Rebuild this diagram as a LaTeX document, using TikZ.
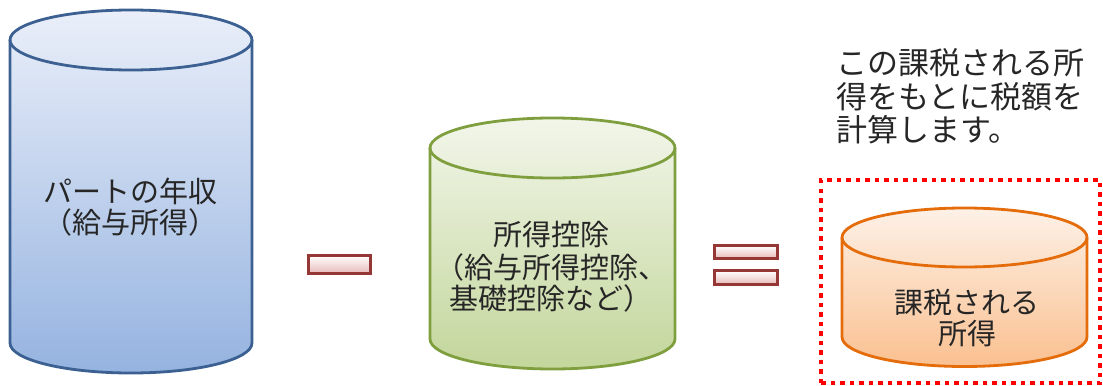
\documentclass[tikz,border=0pt]{standalone}
\usepackage{fontspec}
\newfontfamily\jp{Noto Sans CJK JP}
\definecolor{bluebd}{HTML}{3B6091}
\definecolor{bluetop}{HTML}{EAEFF9}
\definecolor{bluebot}{HTML}{95B3E0}
\definecolor{greenbd}{HTML}{7F9F3F}
\definecolor{greentop}{HTML}{F2F6EA}
\definecolor{greenbot}{HTML}{C3D69B}
\definecolor{orangebd}{HTML}{E46C0A}
\definecolor{orangetop}{HTML}{FDF1E7}
\definecolor{orangebot}{HTML}{FAC090}
\definecolor{barbd}{HTML}{953735}
\definecolor{barbot}{HTML}{E6B9B8}
\tikzset{
  cyltext/.style={font=\jp\fontsize{29bp}{31bp}\selectfont, align=center, text=black!85},
  opbar/.style={draw=barbd, line width=2.8bp, top color=white, bottom color=barbot, rectangle, inner sep=0pt},
  cylline/.style={line width=2.8bp},
}
\newcommand{\mycyl}[7]{% cx, rx, topcy, botcy, ry, top color, bottom color
  \shade[top color=#6, bottom color=#7] (#1-#2,#3) -- (#1-#2,#4)
    arc[start angle=180,end angle=360,x radius=#2 bp,y radius=#5 bp] -- (#1+#2,#3)
    arc[start angle=0,end angle=180,x radius=#2 bp,y radius=#5 bp] -- cycle;
}
\begin{document}
\begin{tikzpicture}[x=1bp,y=1bp]
\useasboundingbox (0,0) rectangle (1103,385);
% blue cylinder
\mycyl{131}{121}{345}{42}{30}{bluetop}{bluebot}
\draw[bluebd, cylline] (10,345) -- (10,42) arc[start angle=180,end angle=360,x radius=121bp,y radius=30bp] -- (252,345);
\draw[bluebd, cylline] (131,345) ellipse[x radius=121bp,y radius=30bp];
\node[cyltext] (income) at (130.5,177.5) {パートの年収\\（給与所得）};
% minus
\node[opbar, minimum width=62bp, minimum height=18bp] (minus) at (339.5,120.5) {};
% green cylinder
\mycyl{552.5}{122.5}{237}{46}{30}{greentop}{greenbot}
\draw[greenbd, cylline] (430,237) -- (430,46) arc[start angle=180,end angle=360,x radius=122.5bp,y radius=30bp] -- (675,237);
\draw[greenbd, cylline] (552.5,237) ellipse[x radius=122.5bp,y radius=30bp];
\node[cyltext] (deduct) at (551,118) {所得控除\\[2bp]（給与所得控除、\\基礎控除など）};
% equals
\node[opbar, minimum width=63bp, minimum height=13bp] (eqtop) at (746,133) {};
\node[opbar, minimum width=63bp, minimum height=14bp] (eqbot) at (746,107.5) {};
% orange cylinder
\mycyl{964.5}{122.5}{147.5}{48}{29.5}{orangetop}{orangebot}
\draw[orangebd, cylline] (842,147.5) -- (842,48) arc[start angle=180,end angle=360,x radius=122.5bp,y radius=29.5bp] -- (1087,147.5);
\draw[orangebd, cylline] (964.5,147.5) ellipse[x radius=122.5bp,y radius=29.5bp];
\node[cyltext] (taxable) at (967,67.5) {課税される\\所得};
% red dotted frame
\draw[red, line width=3.6bp, dash pattern=on 4.5bp off 5bp] (821,2) rectangle (1100,205);
% note text
\node[font=\jp\fontsize{31bp}{33.5bp}\selectfont, align=left, anchor=west, inner sep=0pt, text=black!85] (note) at (836,288.5) {この課税される所\\得をもとに税額を\\計算します。};
\end{tikzpicture}
\end{document}
